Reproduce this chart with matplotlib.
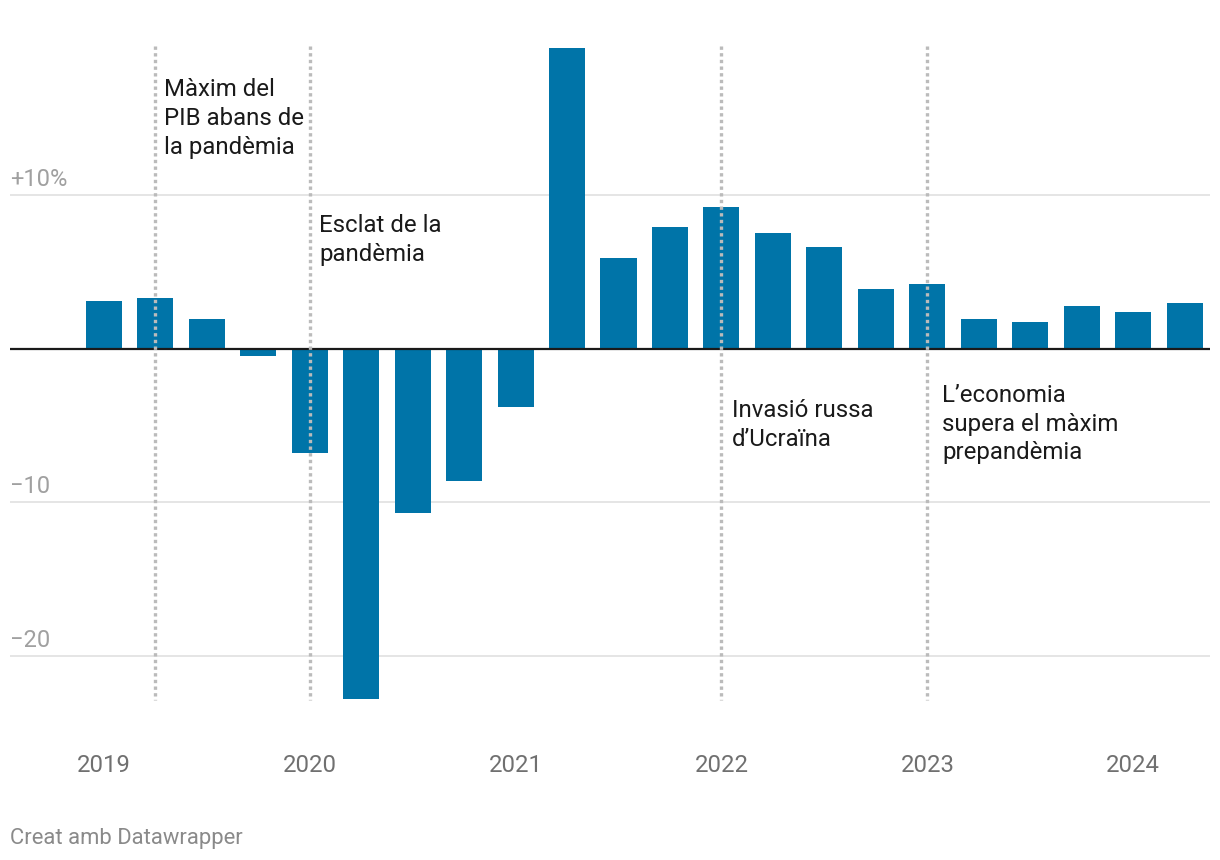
import matplotlib
matplotlib.use("Agg")
import matplotlib.pyplot as plt
import matplotlib.transforms as mtransforms

plt.rcParams['font.family'] = ['Roboto', 'DejaVu Sans']

# quarterly GDP change (%), 2019 Q1 .. 2024 Q2
quarters = ['2019T1', '2019T2', '2019T3', '2019T4',
            '2020T1', '2020T2', '2020T3', '2020T4',
            '2021T1', '2021T2', '2021T3', '2021T4',
            '2022T1', '2022T2', '2022T3', '2022T4',
            '2023T1', '2023T2', '2023T3', '2023T4',
            '2024T1', '2024T2']
values = [3.1, 3.3, 1.9, -0.5,
          -6.8, -22.8, -10.7, -8.6,
          -3.8, 19.6, 5.9, 7.9,
          9.2, 7.5, 6.6, 3.9,
          4.2, 1.9, 1.7, 2.8,
          2.4, 3.0]
year_labels = ['2019', '2020', '2021', '2022', '2023', '2024']
y_ticks = [10, -10, -20]
y_tick_labels = ['+10%', '\u221210', '\u221220']
events = ['2019T2', '2020T1', '2022T1', '2023T1']
event_texts = ['Màxim del\nPIB abans de\nla pandèmia',
               'Esclat de la\npandèmia',
               'Invasió russa\nd\u2019Ucraïna',
               'L\u2019economia\nsupera el màxim\nprepandèmia']
event_text_pos = [(1.17, 17.6), (4.19, 8.75), (12.21, -3.3), (16.29, -2.3)]

W, H = 1220, 860
fig = plt.figure(figsize=(W / 100, H / 100), dpi=100)
# axes placed by pixel box: x 10..1210, y 26..725
ax = fig.add_axes([10 / W, (H - 725) / H, 1200 / W, (725 - 26) / H])
ax.set_xlim(-1.82, 21.49)
ax.set_ylim(-24.5, 21.0)
ax.axis('off')

x = list(range(len(quarters)))

for t, lab in zip(y_ticks, y_tick_labels):
    ax.axhline(t, color='#e0e0e0', lw=1.2, zorder=0)
    ax.annotate(lab, xy=(0, t), xycoords=('axes fraction', 'data'),
                xytext=(0, 4), textcoords='offset pixels', ha='left', va='bottom',
                fontsize=17, color='#a0a0a0')

ax.bar(x, values, width=0.7, color='#0074a8', zorder=2)
ax.axhline(0, color='#1a1a1a', lw=1.6, zorder=3)

for ev in events:
    i = quarters.index(ev)
    ax.plot([i, i], [max(values) + 0.1, min(values) - 0.1], color='#bbbbbb',
            lw=2.4, linestyle=(0, (1.0, 1.0)), zorder=4,
            dash_capstyle='butt')

for txt, (tx, ty) in zip(event_texts, event_text_pos):
    ax.text(tx, ty, txt, ha='left', va='top', fontsize=17.3, color='#1a1a1a',
            linespacing=1.32, zorder=5)

trans = mtransforms.blended_transform_factory(ax.transData, fig.transFigure)
for yl in year_labels:
    i = quarters.index(yl + 'T1')
    ax.text(i, (H - 765) / H, yl, transform=trans, ha='center', va='center',
            fontsize=17.2, color='#707070')

fig.text(10 / W, (H - 844) / H, 'Creat amb Datawrapper', ha='left', va='baseline',
         fontsize=15.8, color='#8a8a8a')

fig.savefig('out.png', dpi=100, facecolor='white')
